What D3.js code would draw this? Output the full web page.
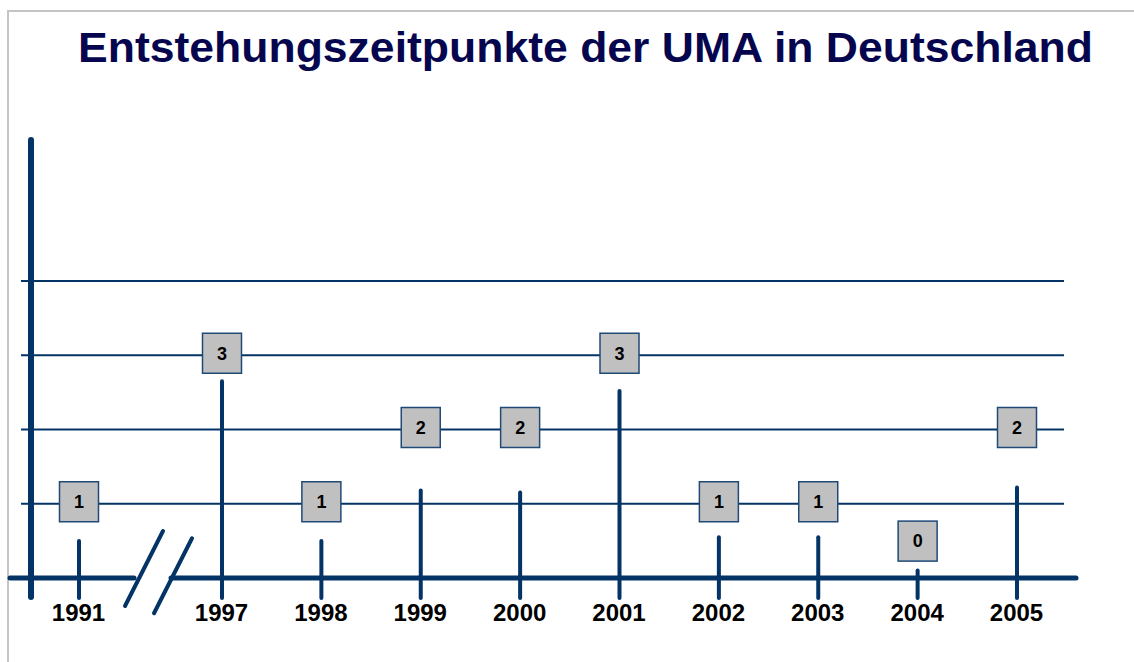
<!DOCTYPE html>
<html>
<head>
<meta charset="utf-8">
<script src="https://d3js.org/d3.v7.min.js"></script>
<style>
  body { margin: 0; background: #fff; }
  svg text { font-family: "Liberation Sans", Arial, sans-serif; }
</style>
</head>
<body>
<svg width="1134" height="662"></svg>
<script>
// Entstehungszeitpunkte der UMA
var years = [1991, 1997, 1998, 1999, 2000, 2001, 2002, 2003, 2004, 2005];
var counts = [1, 3, 1, 2, 2, 3, 1, 1, 0, 2];
// how high the drawn stems reach (in count units, as in the original drawing)
var stems = [0.5, 2.65, 0.5, 1.18, 1.15, 2.52, 0.55, 0.55, 0.1, 1.22];
var gridLevels = [1, 2, 3, 4];
var title = "Entstehungszeitpunkte der UMA in Deutschland";

var navy = "#043466";
var svg = d3.select("svg");

// x has a break between 1991 and 1997
var x = d3.scaleLinear().domain([1991, 1997, 2005]).range([79, 222, 1017]);
var y = d3.scaleLinear().domain([0, 4]).range([578, 281]);

// frame
svg.append("path")
    .attr("d", "M8,662 L8,11 L1134,11")
    .attr("fill", "none")
    .attr("stroke", "#c4c4c4")
    .attr("stroke-width", 2);

svg.append("text")
    .attr("x", 78)
    .attr("y", 62)
    .attr("font-size", 43)
    .attr("font-weight", "bold")
    .attr("fill", "#06064f")
    .attr("textLength", 1015)
    .attr("lengthAdjust", "spacingAndGlyphs")
    .text(title);

// grid lines
svg.selectAll(".grid").data(gridLevels).enter().append("line")
    .attr("class", "grid")
    .attr("x1", 21).attr("x2", 1064)
    .attr("y1", function(d) { return y(d); })
    .attr("y2", function(d) { return y(d); })
    .attr("stroke", navy)
    .attr("stroke-width", 2);

// horizontal axis, broken after 1991
svg.append("line")
    .attr("x1", 10).attr("x2", 134)
    .attr("y1", y(0)).attr("y2", y(0))
    .attr("stroke", navy).attr("stroke-width", 5).attr("stroke-linecap", "round");
svg.append("line")
    .attr("x1", 171).attr("x2", 1076)
    .attr("y1", y(0)).attr("y2", y(0))
    .attr("stroke", navy).attr("stroke-width", 5).attr("stroke-linecap", "round");
svg.selectAll(".brk").data([0, 29]).enter().append("line")
    .attr("class", "brk")
    .attr("x1", function(d) { return 125 + d; })
    .attr("y1", function(d) { return 606 + d / 4; })
    .attr("x2", function(d) { return 163 + d; })
    .attr("y2", function(d) { return 531 + d / 4; })
    .attr("stroke", navy).attr("stroke-width", 4).attr("stroke-linecap", "round");

// vertical axis
svg.append("line")
    .attr("x1", 31).attr("x2", 31)
    .attr("y1", 140).attr("y2", 597)
    .attr("stroke", navy).attr("stroke-width", 6).attr("stroke-linecap", "round");

// stems
svg.selectAll(".stem").data(years).enter().append("line")
    .attr("class", "stem")
    .attr("x1", function(d) { return x(d); })
    .attr("x2", function(d) { return x(d); })
    .attr("y1", function(d, i) { return y(stems[i]); })
    .attr("y2", y(0) + 20)
    .attr("stroke", navy).attr("stroke-width", 4).attr("stroke-linecap", "round");

// value boxes
var boxes = svg.selectAll(".box").data(years).enter().append("g")
    .attr("class", "box")
    .attr("transform", function(d, i) {
        var c = counts[i] > 0 ? counts[i] : 0.47;
        return "translate(" + x(d) + "," + (y(c) - 2) + ")";
    });
boxes.append("rect")
    .attr("x", -19.5).attr("y", -20)
    .attr("width", 39).attr("height", 40)
    .attr("fill", "#c0c0c0")
    .attr("stroke", "#1f4a78")
    .attr("stroke-width", 1.5);
boxes.append("text")
    .attr("text-anchor", "middle")
    .attr("dy", "0.35em")
    .attr("font-size", 18)
    .attr("font-weight", "bold")
    .attr("fill", "#000")
    .text(function(d, i) { return counts[i]; });

// year labels
svg.append("g")
    .attr("transform", "translate(0," + (y(0) + 20) + ")")
    .call(d3.axisBottom(x).tickValues(years).tickFormat(d3.format("d")).tickSize(0).tickPadding(6))
    .call(function(g) { g.select(".domain").remove(); })
    .selectAll("text")
    .attr("font-family", "Liberation Sans, Arial, sans-serif")
    .attr("font-size", 24)
    .attr("font-weight", "bold")
    .attr("fill", "#000")
    .attr("dx", -1);
</script>
</body>
</html>
